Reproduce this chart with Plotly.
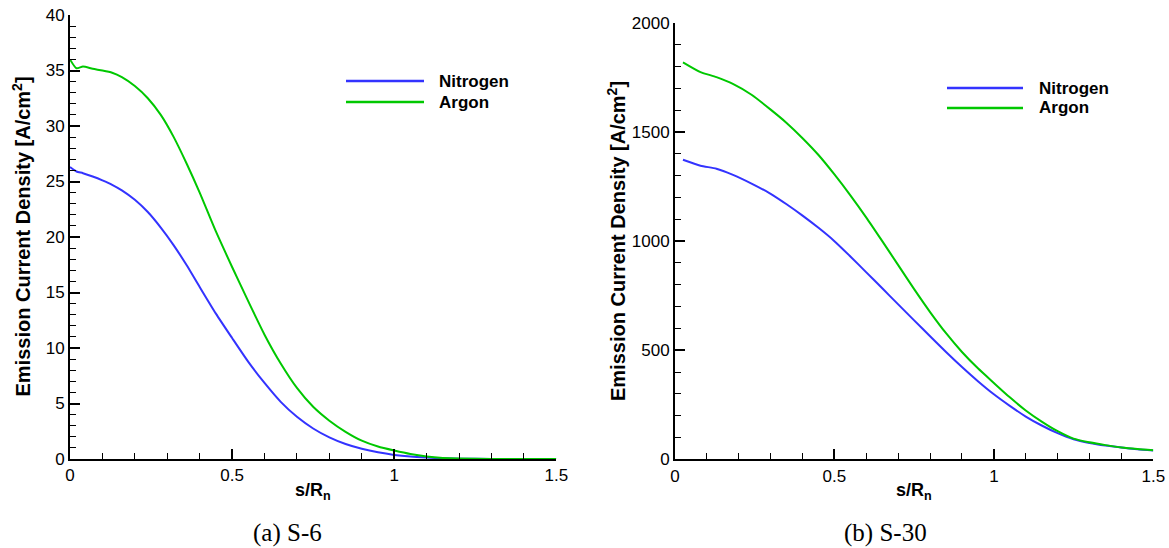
import plotly.graph_objects as go

# ---- S-6 case ----
s6_x = [0.0, 0.02, 0.04, 0.07, 0.10, 0.13, 0.16, 0.20, 0.24, 0.28, 0.32, 0.36, 0.40, 0.45, 0.50,
        0.55, 0.60, 0.65, 0.70, 0.75, 0.80, 0.85, 0.90, 0.95, 1.00, 1.05, 1.10, 1.15, 1.20, 1.30,
        1.40, 1.50]
s6_nitrogen = [26.3, 25.9, 25.75, 25.45, 25.1, 24.7, 24.2, 23.35, 22.25, 20.85, 19.25, 17.45, 15.5,
               13.1, 10.9, 8.75, 6.85, 5.15, 3.8, 2.75, 1.95, 1.35, 0.92, 0.6, 0.37, 0.22, 0.13,
               0.07, 0.03, 0.01, 0.0, 0.0]
s6_argon = [36.0, 35.2, 35.35, 35.15, 35.0, 34.8, 34.4, 33.6, 32.5, 31.0, 29.0, 26.6, 24.0, 20.5,
            17.3, 14.2, 11.2, 8.6, 6.4, 4.7, 3.45, 2.45, 1.65, 1.12, 0.76, 0.45, 0.23, 0.1, 0.04,
            0.01, 0.0, 0.0]

# ---- S-30 case ----
s30_x = [0.025, 0.08, 0.13, 0.18, 0.24, 0.30, 0.35, 0.40, 0.45, 0.50, 0.55, 0.60, 0.65, 0.70,
         0.75, 0.80, 0.85, 0.90, 0.95, 1.00, 1.05, 1.10, 1.15, 1.20, 1.25, 1.30, 1.35, 1.40, 1.45, 1.50]
s30_nitrogen = [1373, 1346, 1332, 1305, 1264, 1217, 1169, 1117, 1061, 1000, 930, 857, 784, 710,
                637, 564, 492, 423, 358, 298, 245, 196, 155, 120, 92, 75, 63, 54, 46, 40]
s30_argon = [1820, 1775, 1752, 1722, 1671, 1603, 1542, 1472, 1395, 1306, 1210, 1108, 1000, 890,
             780, 675, 578, 492, 417, 350, 284, 224, 173, 129, 95, 78, 65, 54, 47, 42]

series_names = ["Nitrogen", "Argon"]
series_colors = ["#3333ff", "#00c800"]

W, H = 1169, 548


def px(x):
    return x / W


def py(y):
    return 1 - y / H


fig = go.Figure()

for xa, ya, xs, curves in [("x", "y", s6_x, [s6_nitrogen, s6_argon]),
                           ("x2", "y2", s30_x, [s30_nitrogen, s30_argon])]:
    for name, color, ys in zip(series_names, series_colors, curves):
        fig.add_trace(go.Scatter(x=xs, y=ys, mode="lines", name=name, xaxis=xa, yaxis=ya,
                                 line=dict(color=color, width=2, shape="spline", smoothing=0.6),
                                 showlegend=False))

tick_font = dict(family="Liberation Sans, Arial, sans-serif", size=17, color="black")
axis_common = dict(showline=True, linecolor="black", linewidth=2, ticks="inside", ticklen=10,
                   tickwidth=2, tickcolor="black", showgrid=False, zeroline=False,
                   tickfont=tick_font, mirror=False, automargin=False)
minor_x = dict(ticks="inside", ticklen=6, tickwidth=1, tickcolor="black", dtick=0.1, showgrid=False)

fig.update_layout(
    width=W, height=H,
    margin=dict(l=0, r=0, t=0, b=0, autoexpand=False),
    plot_bgcolor="white", paper_bgcolor="white",
    xaxis=dict(domain=[px(70), px(556.3)], range=[0, 1.5], dtick=0.5, anchor="y",
               minor=minor_x, **axis_common),
    yaxis=dict(domain=[py(459), py(15)], range=[0, 40], dtick=5, anchor="x",
               minor=dict(ticks="inside", ticklen=6, tickwidth=1, tickcolor="black", dtick=1,
                          showgrid=False), **axis_common),
    xaxis2=dict(domain=[px(675), px(1153.3)], range=[0, 1.5], dtick=0.5, anchor="y2",
                minor=minor_x, **axis_common),
    yaxis2=dict(domain=[py(459.3), py(23)], range=[0, 2000], dtick=500, anchor="x2",
                minor=dict(ticks="inside", ticklen=6, tickwidth=1, tickcolor="black", dtick=100,
                           showgrid=False), **axis_common),
)

bold_font = dict(family="Liberation Sans, Arial, sans-serif", size=20, color="black", weight="bold")
ytitle = "Emission Current Density [A/cm<sup>2</sup>]"
xtitle = "s/R<sub>n</sub>"

annotations = []
# axis titles
for xc, yc in [(20.5, 237), (616, 241)]:
    annotations.append(dict(text=ytitle, xref="paper", yref="paper", x=px(xc), y=py(yc),
                            xanchor="center", yanchor="middle", textangle=-90,
                            showarrow=False, font=bold_font))
for xc in [313, 914]:
    annotations.append(dict(text=xtitle, xref="paper", yref="paper", x=px(xc), y=py(478),
                            xanchor="center", yanchor="top", showarrow=False,
                            font=dict(bold_font, size=18)))
# sub-figure captions
for xc, label in [(287, "(a) S-6"), (885, "(b) S-30")]:
    annotations.append(dict(text=label, xref="paper", yref="paper", x=px(xc), y=py(533),
                            xanchor="center", yanchor="middle", showarrow=False,
                            font=dict(family="Liberation Serif, Times New Roman, serif",
                                      size=25, color="black")))

# in-plot legends: sample line + label for each series
shapes = []
for x0, x1, xt, rows in [(346, 424, 437, (81, 102)), (947, 1023, 1037, (88, 108))]:
    for name, color, yr in zip(series_names, series_colors, rows):
        shapes.append(dict(type="line", xref="paper", yref="paper", x0=px(x0), x1=px(x1),
                           y0=py(yr), y1=py(yr), line=dict(color=color, width=2.5)))
        annotations.append(dict(text=name, xref="paper", yref="paper", x=px(xt), y=py(yr),
                                xanchor="left", yanchor="middle", showarrow=False,
                                font=dict(bold_font, size=17)))

fig.update_layout(annotations=annotations, shapes=shapes)

fig.write_html("out.html")
